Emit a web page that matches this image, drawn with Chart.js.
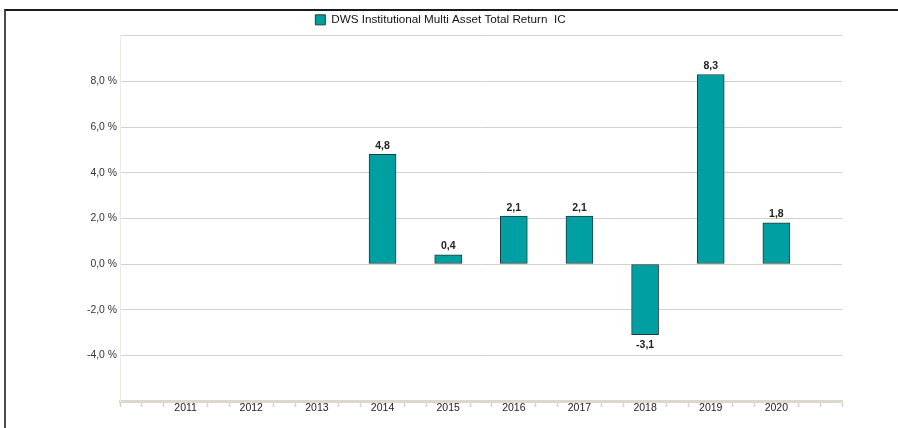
<!DOCTYPE html>
<html><head><meta charset="utf-8">
<script src="https://cdn.jsdelivr.net/npm/chart.js@4/dist/chart.umd.min.js"></script>
<style>
html,body{margin:0;padding:0;background:#fff;width:898px;height:428px;overflow:hidden;}
#frame{position:absolute;left:4px;top:9px;width:900px;height:430px;border-top:2px solid #1a1a1a;border-left:2px solid #4a4a4a;box-sizing:border-box;}
#wrap{position:absolute;left:0;top:0;width:881px;height:428px;}
</style></head><body>
<div id="frame"></div>
<div id="wrap"><canvas id="c" width="881" height="428"></canvas></div>
<script>
const seriesName = 'DWS Institutional Multi Asset Total Return  IC';
const years = ['2011','2012','2013','2014','2015','2016','2017','2018','2019','2020'];
const returns = [null, null, null, 4.8, 0.4, 2.1, 2.1, -3.1, 8.3, 1.8];
const yTickLabels = [-4, -2, 0, 2, 4, 6, 8];
const yMin = -6, yMax = 10, yStep = 2;

const SUB = 3; // minor tick subdivisions per category
const fmt = v => v.toFixed(1).replace('.', ',');
const points = years.map((y, i) => ({ x: (i + 1) * SUB, y: returns[i] }));
const isLabelPos = v => v % SUB === 0 && v > 0 && v < (years.length + 1) * SUB;

const teal = '#00a0a2';
const edge = '#1f3c3c';
const font = "'Liberation Sans', Arial, sans-serif";

const valueLabels = {
  id: 'valueLabels',
  afterDatasetsDraw(chart) {
    const ctx = chart.ctx;
    const meta = chart.getDatasetMeta(0);
    ctx.save();
    ctx.font = 'bold 10.5px ' + font;
    ctx.fillStyle = '#222';
    ctx.textAlign = 'center';
    ctx.textBaseline = 'alphabetic';
    meta.data.forEach((bar, i) => {
      const v = returns[i];
      if (v === null) return;
      const y = v >= 0 ? bar.y - 5.5 : bar.y + 13;
      ctx.fillText(fmt(v), bar.x, y);
    });
    ctx.restore();
  }
};

new Chart(document.getElementById('c'), {
  type: 'bar',
  data: {
    datasets: [{
      label: seriesName,
      data: points,
      backgroundColor: teal,
      borderColor: edge,
      borderWidth: 1,
      borderSkipped: false,
      barThickness: 27
    }]
  },
  options: {
    responsive: false,
    animation: false,
    layout: { padding: { top: 6, bottom: 7, left: 0, right: 0 } },
    plugins: {
      legend: {
        position: 'top',
        labels: {
          boxWidth: 10, boxHeight: 10, padding: 8,
          color: '#111',
          font: { size: 11.7, family: font }
        }
      },
      tooltip: { enabled: false }
    },
    scales: {
      x: {
        type: 'linear',
        position: 'bottom',
        min: 0, max: (years.length + 1) * SUB,
        offset: false,
        afterFit: s => { s.height = 20; },
        grid: {
          offset: false,
          drawOnChartArea: false,
          drawTicks: true,
          tickLength: 6,
          tickWidth: 1.5,
          tickColor: c => (c.tick && isLabelPos(c.tick.value)) ? 'rgba(0,0,0,0)' : '#d6d2c6'
        },
        border: { display: true, color: '#dcd8cc', width: 3 },
        ticks: {
          stepSize: 1,
          autoSkip: false,
          maxTicksLimit: 200,
          maxRotation: 0,
          padding: -5,
          color: '#222',
          font: { size: 10.5, family: font },
          callback: v => isLabelPos(v) ? years[v / SUB - 1] : ''
        }
      },
      y: {
        min: yMin, max: yMax,
        afterFit: s => { s.width = 120; },
        grid: { color: '#d5d2c8', lineWidth: 1, drawTicks: false },
        border: { display: true, color: '#eceae4', width: 1 },
        ticks: {
          stepSize: yStep,
          padding: 3,
          color: '#333',
          font: { size: 10.4, family: font },
          callback: v => yTickLabels.includes(v) ? fmt(v) + ' %' : ''
        }
      },
      yr: {
        type: 'linear',
        position: 'right',
        display: true,
        afterFit: s => { s.width = 39; },
        grid: { display: false, drawTicks: false },
        border: { display: false },
        ticks: { display: false }
      }
    }
  },
  plugins: [valueLabels]
});
</script>
</body></html>
